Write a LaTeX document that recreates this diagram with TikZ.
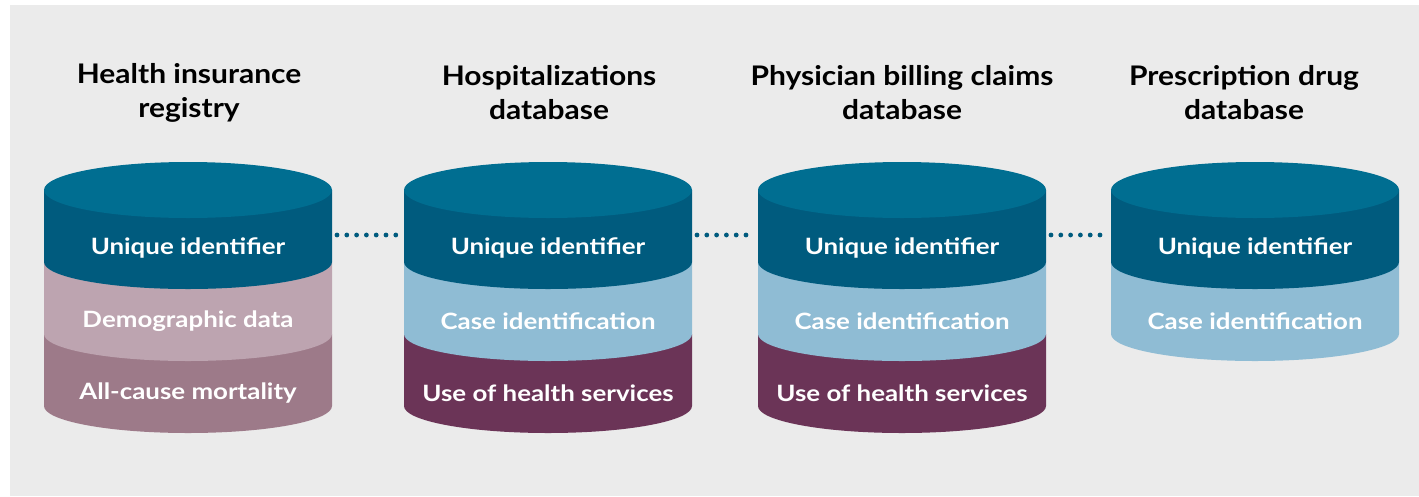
\documentclass[tikz,border=0pt]{standalone}
\usepackage{fontspec}
\setmainfont{Lato}
\newfontfamily\titlefont{Lato}[FakeStretch=1.11]
\newfontfamily\fieldfont{Lato}[FakeStretch=1.15]

\definecolor{panel}{HTML}{EBEBEB}
\definecolor{idtop}{HTML}{006E91}
\definecolor{idband}{HTML}{005B7E}
\definecolor{casecol}{HTML}{8FBCD4}
\definecolor{democol}{HTML}{BDA4B0}
\definecolor{mortcol}{HTML}{9D7A89}
\definecolor{usecol}{HTML}{6B3457}

\tikzset{
  title/.style={font=\titlefont\bfseries\fontsize{27}{34}\selectfont, align=center, text=black},
  field/.style={font=\fieldfont\bfseries\fontsize{22.5}{27}\selectfont, text=white},
  link/.style={idband, line width=4.8pt, line cap=round, dash pattern=on 0pt off 9.8pt},
}

% one slice of a cylinder: centre x, top, bottom, colour
\newcommand{\slice}[4]{%
  \fill[#4] (#1-144,#2) -- (#1-144,#3)
    arc[start angle=180, end angle=360, x radius=144pt, y radius=27pt]
    -- (#1+144,#2) -- cycle;}

\begin{document}
\begin{tikzpicture}[x=1pt, y=-1pt]
  \useasboundingbox (0,0) rectangle (1419,496);
  \fill[panel] (10,5) rectangle (1419,496);

  % Cylinder bodies, lowest slice first
  \slice{188}{334}{406}{mortcol}
  \slice{188}{262}{334}{democol}
  \slice{548}{334}{406}{usecol}
  \slice{548}{262}{334}{casecol}
  \slice{902}{334}{406}{usecol}
  \slice{902}{262}{334}{casecol}
  \slice{1255}{262}{334}{casecol}
  \foreach \cx in {188, 548, 902, 1255} {
    \slice{\cx}{190}{262}{idband}
    \fill[idtop] (\cx,190) ellipse[x radius=144pt, y radius=28pt];
  }

  % Titles
  \node[title] (hir)  at (189,93)  {Health insurance\\registry};
  \node[title] (hosp) at (549,93)  {Hospitalizations\\database};
  \node[title] (phys) at (902,93)  {Physician billing claims\\database};
  \node[title] (drug) at (1244,93) {Prescription drug\\database};

  % Fields
  \node[field] (hir-uid)   at (188,248) {Unique identifier};
  \node[field] (hir-demo)  at (188,321) {Demographic data};
  \node[field] (hir-mort)  at (188,393) {All-cause mortality};
  \node[field] (hosp-uid)  at (548,248) {Unique identifier};
  \node[field] (hosp-case) at (548,321) {Case identification};
  \node[field] (hosp-use)  at (548,393) {Use of health services};
  \node[field] (phys-uid)  at (902,248) {Unique identifier};
  \node[field] (phys-case) at (902,321) {Case identification};
  \node[field] (phys-use)  at (902,393) {Use of health services};
  \node[field] (drug-uid)  at (1255,248) {Unique identifier};
  \node[field] (drug-case) at (1255,321) {Case identification};

  % Linkage on the unique identifier
  \coordinate (hir-e)  at (332,235);
  \coordinate (hosp-w) at (404,235);
  \coordinate (hosp-e) at (692,235);
  \coordinate (phys-w) at (758,235);
  \coordinate (phys-e) at (1046,235);
  \coordinate (drug-w) at (1111,235);
  \draw[link] ([xshift=5pt]hir-e)  -- ([xshift=-5pt]hosp-w);
  \draw[link] ([xshift=5pt]hosp-e) -- ([xshift=-3pt]phys-w);
  \draw[link] ([xshift=5pt]phys-e) -- ([xshift=-3pt]drug-w);
\end{tikzpicture}
\end{document}
